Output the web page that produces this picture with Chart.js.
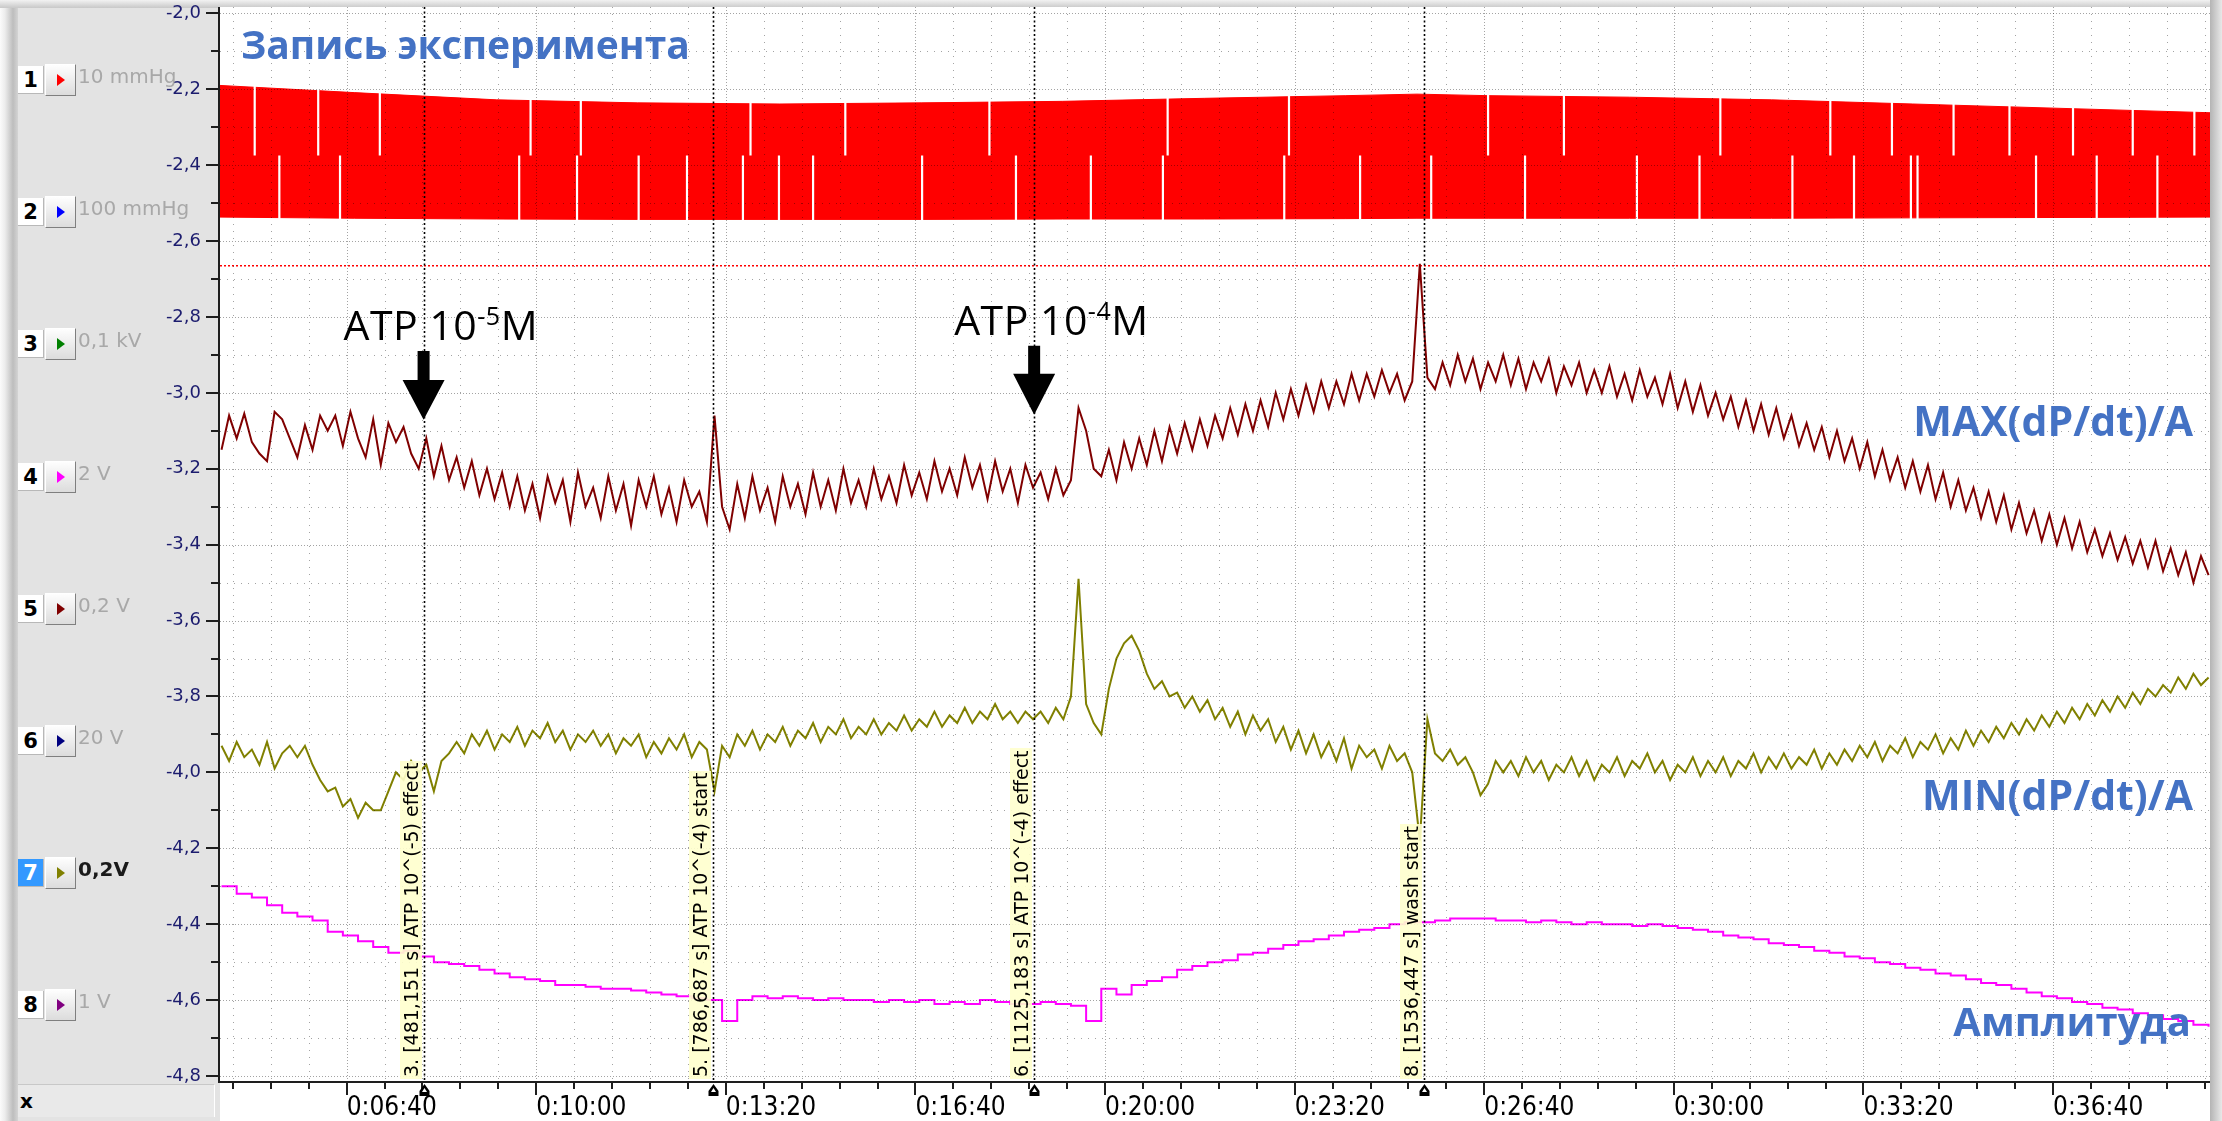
<!DOCTYPE html>
<html><head><meta charset="utf-8">
<script src="https://cdn.jsdelivr.net/npm/chart.js@4.4.1/dist/chart.umd.min.js"></script>
<style>
html,body{margin:0;padding:0;}
body{width:2222px;height:1121px;overflow:hidden;position:relative;background:#e3e3e3;font-family:"DejaVu Sans",sans-serif;}
#leftEdge{position:absolute;left:0;top:0;width:18px;height:1121px;background:linear-gradient(to right,#fbfbfb 0px,#ececec 5px,#bdbdbd 13px,#d4d4d4 18px);}
#topEdge{position:absolute;left:0;top:0;width:2222px;height:8px;background:linear-gradient(to bottom,#f2f2f2,#c8c8c8);}
#rightEdge{position:absolute;right:0;top:0;width:12px;height:1121px;background:linear-gradient(to right,#b4b4b4,#e8e8e8);}
#cv{position:absolute;left:0;top:0;z-index:1;}
.num{position:absolute;z-index:3;left:18px;width:26px;height:28px;background:#fff;border-right:1px solid #b8b8b8;border-bottom:1px solid #b8b8b8;box-sizing:border-box;font:bold 21px "DejaVu Sans",sans-serif;line-height:28px;text-align:center;color:#000;}
.num.act{background:#3399ff;color:#fff;}
.btn{position:absolute;z-index:3;left:45px;width:31px;height:32px;box-sizing:border-box;background:linear-gradient(#fefefe,#dcdcdc);border:1px solid;border-color:#ffffff #7f7f7f #7f7f7f #ffffff;}
.tri{position:absolute;left:11px;top:9px;width:0;height:0;border-top:6px solid transparent;border-bottom:6px solid transparent;border-left:8px solid red;}
.unit{position:absolute;z-index:3;left:78px;height:32px;line-height:32px;font:20px "DejaVu Sans",sans-serif;color:#a8a8a8;white-space:nowrap;}
.unit.act{font-weight:bold;color:#1a1a1a;}
.mlabel{position:absolute;z-index:3;transform-origin:0 0;transform:rotate(-90deg);font:19px "DejaVu Sans",sans-serif;color:#000;background:rgba(255,255,205,0.9);line-height:22px;height:22px;padding:0 2px;white-space:nowrap;}
.big{position:absolute;z-index:3;font:bold 40px "Open Sans",sans-serif;line-height:40px;color:#4472c4;white-space:nowrap;}
.atp{position:absolute;z-index:3;font:41px "Open Sans",sans-serif;line-height:41px;color:#000;white-space:nowrap;letter-spacing:0.5px;}
.atp span{font-size:25px;position:relative;top:-15px;}
#xbox{position:absolute;z-index:3;left:18px;top:1084px;width:197px;height:33px;background:#e9e9e9;border-top:1px solid #c8c8c8;border-right:1px solid #fff;font:bold 20px "DejaVu Sans",sans-serif;line-height:33px;padding-left:2px;box-sizing:border-box;}
</style>
</head>
<body>
<div id="leftEdge"></div><div id="topEdge"></div><div id="rightEdge"></div>
<canvas id="cv" width="2222" height="1121" style="width:2222px;height:1121px"></canvas>
<div id="xbox">x</div>
<script>
// ---------------- DATA ----------------
const X_MIN = 266.4, X_MAX = 2365.5;
const Y_MIN = -4.8132, Y_MAX = -1.9834;
const X_TICKS = [400, 600, 800, 1000, 1200, 1400, 1600, 1800, 2000, 2200];
const X_TICK_LABELS = ['0:06:40','0:10:00','0:13:20','0:16:40','0:20:00','0:23:20','0:26:40','0:30:00','0:33:20','0:36:40'];
const Y_TICKS = [-2.0,-2.2,-2.4,-2.6,-2.8,-3.0,-3.2,-3.4,-3.6,-3.8,-4.0,-4.2,-4.4,-4.6,-4.8];
const Y_TICK_LABELS = ['-2,0','-2,2','-2,4','-2,6','-2,8','-3,0','-3,2','-3,4','-3,6','-3,8','-4,0','-4,2','-4,4','-4,6','-4,8'];

const CH_NUM = ['1','2','3','4','5','6','7','8'];
const CH_UNIT = ['10 mmHg','100 mmHg','0,1 kV','2 V','0,2 V','20 V','0,2V','1 V'];
const CH_COLOR = ['#ff0000','#0000ff','#008000','#ff00ff','#800000','#000080','#808000','#800080'];
const CH_ACTIVE = 6;

const BAND_T      = [266, 408, 558, 707, 857, 1006, 1155, 1305, 1454, 1529, 1604, 1753, 1903, 2052, 2202, 2366];
const BAND_TOP    = [-2.19,-2.209,-2.228,-2.236,-2.239,-2.236,-2.232,-2.224,-2.217,-2.213,-2.217,-2.221,-2.228,-2.239,-2.25,-2.262];
const BAND_BOTTOM = [-2.537,-2.54,-2.542,-2.543,-2.543,-2.543,-2.542,-2.542,-2.541,-2.54,-2.54,-2.54,-2.54,-2.539,-2.538,-2.537];
const UPPER_GAP_T = [303,370,435,594,647,826,926,1078,1266,1394,1604,1684,1849,1965,2030,2095,2154,2221,2284,2349];
const LOWER_GAP_T = [329,393,582,643,708,759,818,856,892,1007,1106,1185,1261,1389,1469,1544,1643,1761,1827,1925,1990,2050,2057,2182,2246,2310];
const GAP_SPLIT = -2.375;
const TRIGGER_LEVEL = -2.665;

const TRACE_START = 268, TRACE_STEP = 8;
const MAX_DPDT = [
-3.15,-3.06,-3.12,-3.055,-3.13,-3.16,-3.18,-3.05,-3.07,-3.12,-3.17,-3.085,-3.15,-3.06,-3.1,-3.06,-3.14,-3.05,-3.12,-3.17,-3.07,-3.19,-3.08,-3.13,-3.09,-3.16,
-3.2,-3.12,-3.22,-3.14,-3.23,-3.17,-3.25,-3.18,-3.27,-3.2,-3.28,
-3.21,-3.3,-3.22,-3.31,-3.24,-3.33,-3.22,-3.29,-3.23,-3.34,-3.21,-3.3,-3.25,-3.33,-3.22,-3.31,-3.24,-3.35,-3.23,-3.3,-3.22,-3.32,-3.25,-3.34,-3.23,-3.3,-3.26,-3.34,
-3.06,
-3.3,-3.36,-3.24,-3.33,-3.22,-3.31,-3.25,-3.34,-3.22,-3.3,-3.24,-3.32,-3.21,-3.3,-3.23,-3.31,-3.2,-3.29,-3.23,-3.3,-3.2,-3.28,-3.22,-3.29,-3.19,-3.27,-3.21,
-3.28,-3.18,-3.26,-3.2,-3.27,-3.17,-3.25,-3.19,-3.28,-3.18,-3.26,-3.2,-3.29,-3.19,-3.25,-3.21,-3.28,-3.2,-3.27,-3.23,
-3.04,-3.1,-3.2,-3.22,-3.15,-3.23,-3.13,-3.2,
-3.12,-3.19,-3.1,-3.18,-3.09,-3.16,-3.08,-3.15,-3.07,-3.14,-3.06,-3.12,-3.04,-3.11,-3.03,-3.1,-3.02,-3.09,-3.0,-3.07,-2.99,-3.06,-2.98,-3.05,-2.97,-3.04,-2.97,-3.03,-2.95,-3.02,-2.95,-3.01,-2.94,-3.0,-2.95,-3.02,-2.97,
-2.66,-2.96,
-2.99,-2.92,-2.98,-2.9,-2.97,-2.91,-2.99,-2.92,-2.97,-2.9,-2.98,-2.91,-2.99,-2.92,-2.97,-2.91,-3.0,-2.93,-2.98,-2.92,-3.0,
-2.94,-3.0,-2.93,-3.01,-2.95,-3.02,-2.94,-3.01,-2.96,-3.03,-2.95,-3.04,-2.97,-3.05,-2.98,-3.06,-3.0,-3.07,-3.01,-3.09,
-3.02,-3.1,-3.03,-3.11,-3.04,-3.12,-3.06,-3.14,-3.08,-3.15,-3.09,-3.17,-3.1,-3.18,-3.12,-3.2,-3.13,-3.22,-3.15,-3.23,
-3.17,-3.25,-3.18,-3.26,-3.19,-3.28,-3.21,-3.3,-3.23,-3.31,-3.25,-3.33,-3.26,-3.34,-3.27,-3.36,-3.29,-3.37,-3.31,-3.39,
-3.32,-3.4,-3.33,-3.41,-3.34,-3.42,-3.36,-3.43,-3.37,-3.44,-3.38,-3.45,-3.39,-3.46,-3.39,-3.47,-3.41,-3.48,-3.42,-3.5,
-3.43,-3.48
];
const MIN_DPDT = [
-3.93,-3.97,-3.92,-3.96,-3.94,-3.98,-3.92,-3.99,-3.95,-3.93,-3.96,-3.93,
-3.98,-4.02,-4.05,-4.04,-4.09,-4.07,-4.12,-4.08,-4.1,
-4.1,-4.05,-4.0,-4.02,-3.97,-4.0,-3.98,-4.05,-3.97,-3.95,-3.92,-3.95,-3.9,-3.93,-3.89,-3.94,-3.9,-3.92,-3.88,-3.93,
-3.89,-3.91,-3.87,-3.92,-3.89,-3.94,-3.9,-3.92,-3.89,-3.93,-3.9,-3.95,-3.91,-3.93,-3.9,-3.96,-3.92,-3.95,-3.91,-3.94,
-3.9,-3.96,-3.92,-3.94,-4.05,-3.93,-3.96,-3.9,
-3.93,-3.89,-3.94,-3.9,-3.92,-3.88,-3.93,-3.89,-3.91,-3.87,-3.92,-3.88,-3.9,-3.86,-3.91,-3.88,-3.9,-3.86,-3.9,-3.87,
-3.89,-3.85,-3.89,-3.86,-3.88,-3.84,-3.88,-3.85,-3.87,-3.83,-3.87,-3.84,-3.86,-3.82,-3.86,-3.84,-3.87,-3.84,-3.86,-3.84,
-3.87,-3.83,-3.86,-3.8,
-3.49,-3.82,-3.87,-3.9,-3.78,-3.7,-3.66,-3.64,-3.68,-3.74,-3.78,-3.76,-3.8,-3.79,-3.83,-3.8,-3.84,
-3.81,-3.86,-3.83,-3.88,-3.84,-3.9,-3.85,-3.89,-3.86,-3.92,-3.88,-3.94,-3.89,-3.95,-3.9,-3.96,-3.92,-3.97,-3.91,-3.99,
-3.93,-3.96,-3.94,-3.99,-3.93,-3.97,-3.95,-4.0,
-4.18,-3.86,-3.95,-3.97,-3.94,-3.98,-3.96,-4.0,-4.06,-4.03,-3.97,-4.0,-3.97,
-4.01,-3.96,-4.0,-3.97,-4.02,-3.98,-4.0,-3.96,-4.01,-3.97,-4.02,-3.98,-4.0,-3.96,-4.01,-3.97,-3.99,-3.95,-4.0,-3.97,
-4.02,-3.98,-4.0,-3.96,-4.01,-3.97,-4.0,-3.96,-4.01,-3.97,-3.99,-3.95,-4.0,-3.96,-3.99,-3.95,-3.99,-3.96,-3.98,-3.94,
-3.99,-3.95,-3.98,-3.94,
-3.97,-3.93,-3.96,-3.92,-3.97,-3.93,-3.95,-3.91,-3.96,-3.92,-3.94,-3.9,-3.95,-3.91,-3.94,-3.89,-3.93,-3.89,-3.92,-3.88,
-3.91,-3.87,-3.9,-3.86,-3.89,-3.85,-3.88,-3.84,-3.87,-3.83,-3.86,-3.82,-3.85,-3.81,-3.84,-3.8,-3.83,-3.79,-3.82,-3.78,
-3.8,-3.77,-3.79,-3.75,-3.78,-3.74,-3.77,-3.75
];
const AMP_START = 268, AMP_STEP = 16;
const AMPLITUDE = [
-4.3,-4.32,-4.33,-4.35,-4.37,-4.38,-4.39,-4.42,-4.43,-4.445,
-4.46,-4.475,-4.47,-4.485,-4.5,-4.505,-4.51,-4.52,-4.53,-4.54,
-4.545,-4.55,-4.56,-4.56,-4.565,-4.57,-4.57,-4.575,-4.58,-4.585,
-4.59,-4.595,-4.6,-4.655,-4.6,-4.59,-4.595,-4.59,-4.595,-4.6,
-4.595,-4.6,-4.6,-4.605,-4.6,-4.605,-4.6,-4.61,-4.605,-4.61,
-4.6,-4.605,-4.61,-4.61,-4.605,-4.61,-4.615,-4.655,-4.57,-4.585,
-4.56,-4.55,-4.54,-4.52,-4.51,-4.5,-4.495,-4.48,-4.475,-4.465,
-4.455,-4.445,-4.44,-4.43,-4.42,-4.415,-4.41,-4.4,-4.395,-4.395,
-4.39,-4.385,-4.385,-4.385,-4.39,-4.39,-4.395,-4.39,-4.395,-4.4,
-4.395,-4.4,-4.4,-4.405,-4.4,-4.405,-4.41,-4.415,-4.42,-4.43,
-4.435,-4.44,-4.45,-4.455,-4.46,-4.47,-4.475,-4.485,-4.49,-4.5,
-4.505,-4.515,-4.52,-4.53,-4.535,-4.545,-4.555,-4.56,-4.57,-4.58,
-4.59,-4.595,-4.605,-4.61,-4.62,-4.625,-4.635,-4.64,-4.65,-4.655,
-4.665,-4.67
];

const MARKER_T = [481.151, 786.687, 1125.183, 1536.447];
const MARKER_LABELS = ['3. [481,151 s] ATP 10^(-5) effect','5. [786,687 s] ATP 10^(-4) start','6. [1125,183 s] ATP 10^(-4) effect','8. [1536,447 s] wash start'];
const ARROWS = [
  {marker:0, top:-2.89, head:-2.966, tip:-3.071, text:'ATP 10', sup:'-5', tail:'M'},
  {marker:2, top:-2.876, head:-2.95, tip:-3.058, text:'ATP 10', sup:'-4', tail:'M'}
];
const TITLE = 'Запись эксперимента';
const SERIES_LABELS = ['MAX(dP/dt)/A','MIN(dP/dt)/A','Амплитуда'];

// ---------------- BUILD ----------------
const pts = (start, step, arr) => arr.map((v, i) => ({x: start + i*step, y: v}));
const pairs = (ts, vs) => ts.map((t, i) => ({x: t, y: vs[i]}));
const gapData = (ts, a, b) => { const o = []; ts.forEach(t => { o.push({x:t,y:a},{x:t,y:b},{x:t,y:null}); }); return o; };

CH_NUM.forEach((n, i) => {
  const cy = 80 + 132.2*i;
  const nb = document.createElement('div'); nb.className = 'num' + (i===CH_ACTIVE?' act':''); nb.textContent = n; nb.style.top = (cy-14)+'px'; document.body.appendChild(nb);
  const b = document.createElement('div'); b.className = 'btn'; b.style.top = (cy-16)+'px';
  const tr = document.createElement('div'); tr.className = 'tri'; tr.style.borderLeftColor = CH_COLOR[i]; b.appendChild(tr); document.body.appendChild(b);
  const u = document.createElement('div'); u.className = 'unit' + (i===CH_ACTIVE?' act':''); u.textContent = CH_UNIT[i]; u.style.top = (cy-16)+'px'; document.body.appendChild(u);
});

function seg(ctx, x1, y1, x2, y2) { ctx.beginPath(); ctx.moveTo(x1, y1); ctx.lineTo(x2, y2); ctx.stroke(); }

const scopePlugin = {
  id: 'scope',
  beforeDraw(chart) {
    const {ctx, chartArea: a} = chart;
    ctx.save(); ctx.fillStyle = '#ffffff';
    ctx.fillRect(a.left, a.top, a.right - a.left, chart.height - a.top);
    ctx.restore();
  },
  afterDatasetsDraw(chart) {
    const {ctx, chartArea: a, scales: {x, y}} = chart;
    ctx.save();
    ctx.strokeStyle = 'rgba(0,0,0,0.36)'; ctx.lineWidth = 1;
    const step = Y_TICKS[0] - Y_TICKS[1];
    Y_TICKS.forEach((v, k) => {
      const py = Math.round(y.getPixelForValue(v)) + 0.5;
      ctx.setLineDash([1, 2]); seg(ctx, a.left, py, a.right, py);
      if (k < Y_TICKS.length - 1) {
        const pm = Math.round(y.getPixelForValue(v - step/2)) + 0.5;
        ctx.setLineDash([1, 6]); seg(ctx, a.left, pm, a.right, pm);
      }
    });
    const xStep = (X_TICKS[1] - X_TICKS[0]) / 5;
    let t0 = X_TICKS[0]; while (t0 - xStep > X_MIN) t0 -= xStep;
    for (let t = t0; t < X_MAX; t += xStep) {
      const px = Math.round(x.getPixelForValue(t)) + 0.5;
      const major = X_TICKS.some(v => Math.abs(v - t) < 1e-6);
      ctx.setLineDash(major ? [1, 2] : [1, 6]); seg(ctx, px, a.top, px, a.bottom);
    }
    ctx.strokeStyle = '#000'; ctx.lineWidth = 1.6; ctx.setLineDash([2, 2.5]);
    MARKER_T.forEach(t => { const px = Math.round(x.getPixelForValue(t)) + 0.5; seg(ctx, px, a.top, px, a.bottom); });
    ctx.setLineDash([]);
    ctx.fillStyle = '#000';
    ARROWS.forEach(ar => {
      const px = x.getPixelForValue(MARKER_T[ar.marker]);
      const yt = y.getPixelForValue(ar.top), yh = y.getPixelForValue(ar.head), yp = y.getPixelForValue(ar.tip);
      ctx.beginPath();
      ctx.moveTo(px - 6, yt); ctx.lineTo(px + 6, yt); ctx.lineTo(px + 6, yh); ctx.lineTo(px + 21, yh);
      ctx.lineTo(px, yp); ctx.lineTo(px - 21, yh); ctx.lineTo(px - 6, yh); ctx.closePath(); ctx.fill();
    });
    ctx.restore();
  },
  afterDraw(chart) {
    const {ctx, chartArea: a, scales: {x, y}} = chart;
    ctx.save();
    ctx.strokeStyle = '#1e1e1e'; ctx.lineWidth = 2;
    seg(ctx, a.left - 1, a.top, a.left - 1, a.bottom + 1);
    seg(ctx, a.left - 2, a.bottom + 1, a.right, a.bottom + 1);
    const step = Y_TICKS[0] - Y_TICKS[1];
    Y_TICKS.forEach((v, k) => {
      const py = Math.round(y.getPixelForValue(v));
      seg(ctx, a.left - 14, py, a.left - 1, py);
      if (k < Y_TICKS.length - 1) { const pm = Math.round(y.getPixelForValue(v - step/2)); seg(ctx, a.left - 9, pm, a.left - 1, pm); }
    });
    const xStep = (X_TICKS[1] - X_TICKS[0]) / 5;
    let t0 = X_TICKS[0]; while (t0 - xStep > X_MIN) t0 -= xStep;
    for (let t = t0; t < X_MAX; t += xStep) {
      const px = Math.round(x.getPixelForValue(t));
      const major = X_TICKS.some(v => Math.abs(v - t) < 1e-6);
      seg(ctx, px, a.bottom + 1, px, a.bottom + (major ? 14 : 8));
    }
    MARKER_T.forEach(t => {
      const px = Math.round(x.getPixelForValue(t)) + 0.5;
      ctx.fillStyle = '#000';
      ctx.beginPath(); ctx.moveTo(px, a.bottom + 3); ctx.lineTo(px + 5, a.bottom + 10); ctx.lineTo(px + 5, a.bottom + 15); ctx.lineTo(px - 5, a.bottom + 15); ctx.lineTo(px - 5, a.bottom + 10); ctx.closePath(); ctx.fill();
      ctx.fillStyle = '#fff';
      ctx.beginPath(); ctx.moveTo(px, a.bottom + 7); ctx.lineTo(px + 2.5, a.bottom + 11); ctx.lineTo(px - 2.5, a.bottom + 11); ctx.closePath(); ctx.fill();
    });
    ctx.restore();
  }
};

const chart = new Chart(document.getElementById('cv'), {
  type: 'line',
  data: { datasets: [
    { data: pairs(BAND_T, BAND_TOP), borderColor: '#ff0000', borderWidth: 1, backgroundColor: '#ff0000', fill: '+1', order: 10 },
    { data: pairs(BAND_T, BAND_BOTTOM), borderColor: '#ff0000', borderWidth: 1, fill: false, order: 10 },
    { data: gapData(UPPER_GAP_T, -2.17, GAP_SPLIT), borderColor: '#ffffff', borderWidth: 2.2, fill: false, spanGaps: false, order: 9 },
    { data: gapData(LOWER_GAP_T, GAP_SPLIT, -2.56), borderColor: '#ffffff', borderWidth: 2.2, fill: false, spanGaps: false, order: 9 },
    { data: [{x: X_MIN, y: TRIGGER_LEVEL}, {x: X_MAX, y: TRIGGER_LEVEL}], borderColor: '#ff0000', borderWidth: 1.5, borderDash: [2, 2], fill: false, order: 8 },
    { data: pts(TRACE_START, TRACE_STEP, MAX_DPDT), borderColor: '#800000', borderWidth: 2, fill: false, order: 3 },
    { data: pts(TRACE_START, TRACE_STEP, MIN_DPDT), borderColor: '#808000', borderWidth: 2, fill: false, order: 2 },
    { data: pts(AMP_START, AMP_STEP, AMPLITUDE), borderColor: '#ff00ff', borderWidth: 2, fill: false, stepped: true, order: 1 }
  ]},
  options: {
    responsive: false, animation: false, events: [],
    layout: { padding: { top: 7, right: 12, left: 0, bottom: 0 } },
    plugins: { legend: { display: false }, tooltip: { enabled: false } },
    elements: { point: { radius: 0 }, line: { tension: 0, borderJoinStyle: 'miter' } },
    scales: {
      x: { type: 'linear', min: X_MIN, max: X_MAX,
           grid: { display: false, drawTicks: false }, border: { display: false },
           afterFit: s => { s.height = 40; s.paddingLeft = 0; s.paddingRight = 0; },
           afterBuildTicks: s => { s.ticks = X_TICKS.map(v => ({value: v})); },
           ticks: { autoSkip: false, maxRotation: 0, minRotation: 0, align: 'start', padding: 12, color: '#000',
                    font: { family: '"Liberation Sans Narrow","DejaVu Sans Condensed",sans-serif', size: 26 },
                    callback: (v, i) => X_TICK_LABELS[i] } },
      y: { type: 'linear', min: Y_MIN, max: Y_MAX,
           grid: { display: false, drawTicks: false }, border: { display: false },
           afterFit: s => { s.width = 220; s.paddingTop = 0; s.paddingBottom = 0; },
           afterBuildTicks: s => { s.ticks = Y_TICKS.map(v => ({value: v})); },
           ticks: { autoSkip: false, padding: 19, color: '#1c1c6e',
                    font: { family: '"DejaVu Sans",sans-serif', size: 18 },
                    callback: (v, i) => Y_TICK_LABELS[i] } }
    }
  },
  plugins: [scopePlugin]
});

// ---------------- OVERLAY TEXT ----------------
const xs = chart.scales.x, ysc = chart.scales.y, area = chart.chartArea;
MARKER_T.forEach((t, i) => {
  const px = xs.getPixelForValue(t);
  const d = document.createElement('div'); d.className = 'mlabel'; d.textContent = MARKER_LABELS[i];
  d.style.left = (px - 24) + 'px'; d.style.top = (area.bottom - 2) + 'px';
  document.body.appendChild(d);
});
ARROWS.forEach(ar => {
  const px = xs.getPixelForValue(MARKER_T[ar.marker]);
  const d = document.createElement('div'); d.className = 'atp';
  d.appendChild(document.createTextNode(ar.text));
  const s = document.createElement('span'); s.textContent = ar.sup; d.appendChild(s);
  d.appendChild(document.createTextNode(ar.tail));
  d.style.left = (px - 80) + 'px'; d.style.top = (ysc.getPixelForValue(ar.top) - 47) + 'px';
  document.body.appendChild(d);
});
function big(text, css) { const d = document.createElement('div'); d.className = 'big'; d.textContent = text; Object.assign(d.style, css); document.body.appendChild(d); }
big(TITLE, {left: '241px', top: '24px', fontSize: '39px'});
big(SERIES_LABELS[0], {right: '29px', top: '400px', fontSize: '41px'});
big(SERIES_LABELS[1], {right: '29px', top: '774px', fontSize: '41px'});
big(SERIES_LABELS[2], {right: '31px', top: '1001px'});
</script>
</body></html>
